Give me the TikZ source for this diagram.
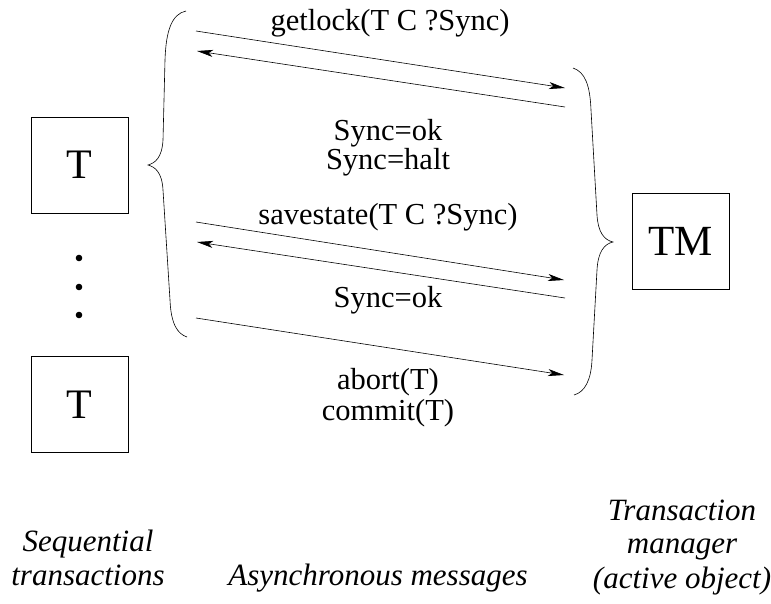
\documentclass[tikz,border=0pt]{standalone}
\usepackage{fontspec}
\setmainfont{Liberation Serif}
\usetikzlibrary{arrows.meta}
\begin{document}
\begin{tikzpicture}[x=1pt,y=-1pt,
  lbl/.style={font=\fontsize{30.5}{34}\selectfont, inner sep=0pt, anchor=base, text height=20pt, text depth=6pt},
  captxt/.style={font=\fontsize{31}{34}\selectfont\itshape, inner sep=0pt, anchor=base, text height=21pt, text depth=7pt},
  tbox/.style={draw, line width=0.6pt, minimum width=97pt, minimum height=96pt, font=\fontsize{42}{46}\selectfont},
  msg/.style={line width=0.6pt, -{Stealth[length=16pt,width=7pt,inset=4pt]}},
  brc/.style={line width=0.6pt}]
\useasboundingbox (0,0) rectangle (771,603);
% boxes
\node[tbox] (t1) at (79.5,165) {T};
\node[tbox] (t2) at (79.5,404.5) {T};
\node[tbox, font=\fontsize{43}{46}\selectfont] (tm) at (680.5,241) {TM};
% dots
\foreach \y/\n in {258/d1,287/d2,315/d3} \fill (79,\y) circle (3.3pt) coordinate (\n);
% braces
\draw[brc] (186,11) .. controls (172,14) and (166,30) .. (165,60) -- (163,140)
  .. controls (162,158) and (155,163) .. (148,165)
  .. controls (155,167) and (162,172) .. (163,190) -- (170,300)
  .. controls (171,325) and (178,334) .. (187,337);
\draw[brc] (573,68) .. controls (585,72) and (590,85) .. (591,110) -- (597,215)
  .. controls (598,232) and (604,240) .. (613,242)
  .. controls (604,244) and (598,252) .. (597,270) -- (592,360)
  .. controls (591,380) and (585,392) .. (574,395);
% message endpoints
\coordinate (a1s) at (196,31);  \coordinate (a1e) at (565,88);
\coordinate (a2s) at (565,107); \coordinate (a2e) at (197,51);
\coordinate (a3s) at (196,222); \coordinate (a3e) at (564,280);
\coordinate (a4s) at (565,298); \coordinate (a4e) at (197,242);
\coordinate (a5s) at (196,318); \coordinate (a5e) at (564,375);
\draw[msg] (a1s) -- (a1e);
\draw[msg] (a2s) -- (a2e);
\draw[msg] (a3s) -- (a3e);
\draw[msg] (a4s) -- (a4e);
\draw[msg] (a5s) -- (a5e);
% labels
\node[lbl] (l1) at (390,30.5) {getlock(T C ?Sync)};
\node[lbl] (l2) at (388,140) {Sync=ok};
\node[lbl] (l3) at (388,169) {Sync=halt};
\node[lbl] (l4) at (388,224.5) {savestate(T C ?Sync)};
\node[lbl] (l5) at (388,307) {Sync=ok};
\node[lbl] (l6) at (388,389.5) {abort(T)};
\node[lbl] (l7) at (388,420) {commit(T)};
% captions
\node[captxt] (c1) at (88,551) {Sequential};
\node[captxt] (c2) at (88,585) {transactions};
\node[captxt] (c3) at (378,585) {Asynchronous messages};
\node[captxt] (c4) at (682,520) {Transaction};
\node[captxt] (c5) at (682,553) {manager};
\node[captxt] (c6) at (682,588) {(active object)};
\end{tikzpicture}
\end{document}
